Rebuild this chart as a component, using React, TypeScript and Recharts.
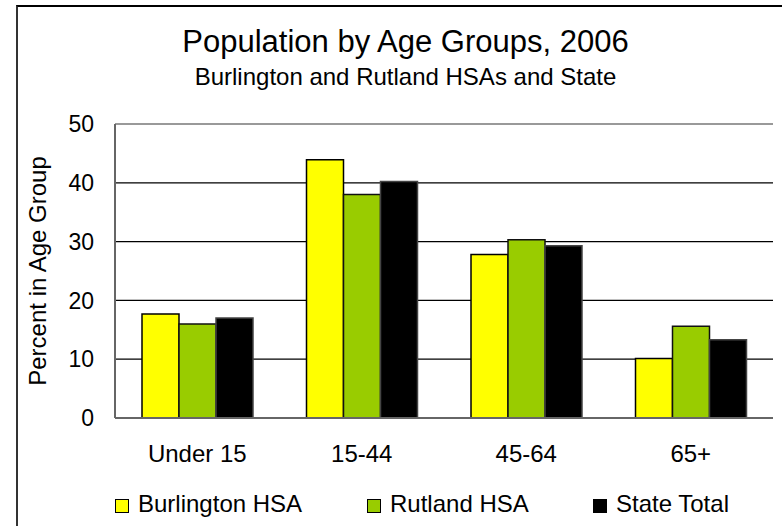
import React from 'react';
import {
  BarChart,
  Bar,
  XAxis,
  YAxis,
  CartesianGrid,
  ReferenceLine,
} from 'recharts';

// --- data ---
const ageGroups = ['Under 15', '15-44', '45-64', '65+'];
const burlington = [17.7, 43.9, 27.8, 10.1];
const rutland = [16.0, 38.0, 30.3, 15.6];
const stateTotal = [17.0, 40.2, 29.3, 13.3];
const yTicks = [0, 10, 20, 30, 40, 50];

const series = [
  { key: 'burlington', name: 'Burlington HSA', fill: '#FFFF00', stroke: '#000' },
  { key: 'rutland', name: 'Rutland HSA', fill: '#99CC00', stroke: '#111' },
  { key: 'state', name: 'State Total', fill: '#000000', stroke: '#444' },
];

// left edge of each legend item (px)
const legendX = [115, 367, 593];

const data = ageGroups.map((group, i) => ({
  group,
  burlington: burlington[i],
  rutland: rutland[i],
  state: stateTotal[i],
}));

const FONT = '"Liberation Sans", Arial, sans-serif';

export default function App() {
  return (
    <div
      style={{
        position: 'absolute',
        left: 0,
        top: 0,
        width: 782,
        height: 526,
        overflow: 'hidden',
        background: '#fff',
        fontFamily: FONT,
        color: '#000',
      }}
    >
      {/* outer chart frame, runs off the right and bottom edges */}
      <div
        style={{
          position: 'absolute',
          left: 16,
          top: 5,
          width: 800,
          height: 600,
          borderLeft: '2px solid #333',
          borderTop: '2px solid #000',
        }}
      />

      <div
        style={{
          position: 'absolute',
          left: 0,
          top: 26,
          width: 811,
          textAlign: 'center',
          fontSize: 31,
          lineHeight: '31px',
        }}
      >
        Population by Age Groups, 2006
      </div>
      <div
        style={{
          position: 'absolute',
          left: 0,
          top: 65,
          width: 811,
          textAlign: 'center',
          fontSize: 24,
          lineHeight: '24px',
        }}
      >
        Burlington and Rutland HSAs and State
      </div>

      <div style={{ position: 'absolute', left: 0, top: 0 }}>
        <BarChart
          width={782}
          height={526}
          data={data}
          margin={{ top: 124, right: 9, bottom: 48, left: 37 }}
          barSize={37}
          barGap={0}
        >
          <CartesianGrid
            vertical={false}
            horizontalValues={[10, 20, 30, 40]}
            stroke="#000"
            strokeWidth={1.2}
          />
          <XAxis
            dataKey="group"
            height={60}
            tickLine={false}
            tickSize={0}
            tickMargin={27}
            axisLine={{ stroke: '#666', strokeWidth: 2 }}
            tick={{ fill: '#000', fontSize: 24 }}
          />
          <YAxis
            width={78}
            domain={[0, 50]}
            ticks={yTicks}
            tickLine={false}
            tickSize={0}
            tickMargin={21}
            axisLine={{ stroke: '#666', strokeWidth: 2 }}
            tick={{ fill: '#000', fontSize: 23 }}
            label={{
              value: 'Percent in Age Group',
              angle: -90,
              position: 'insideLeft',
              offset: 0,
              fontSize: 24,
              fill: '#000',
              style: { textAnchor: 'middle' },
            }}
          />
          <YAxis
            yAxisId="right"
            orientation="right"
            width={0}
            domain={[0, 50]}
            tick={false}
            tickLine={false}
            axisLine={{ stroke: '#999', strokeWidth: 2 }}
          />
          <ReferenceLine y={50} stroke="#999" strokeWidth={2} />
          {series.map((s) => (
            <Bar
              key={s.key}
              dataKey={s.key}
              name={s.name}
              fill={s.fill}
              stroke={s.stroke}
              strokeWidth={1.5}
              isAnimationActive={false}
            />
          ))}
        </BarChart>
      </div>

      {/* legend */}
      {series.map((s, i) => (
        <div
          key={s.key}
          style={{
            position: 'absolute',
            left: legendX[i],
            top: 492,
            display: 'flex',
            alignItems: 'center',
            fontSize: 24,
            lineHeight: '24px',
            whiteSpace: 'nowrap',
          }}
        >
          <span
            style={{
              display: 'inline-block',
              width: 12,
              height: 12,
              background: s.fill,
              border: '1.5px solid #000',
              marginRight: 9,
              marginTop: 3,
            }}
          />
          <span>{s.name}</span>
        </div>
      ))}
    </div>
  );
}
